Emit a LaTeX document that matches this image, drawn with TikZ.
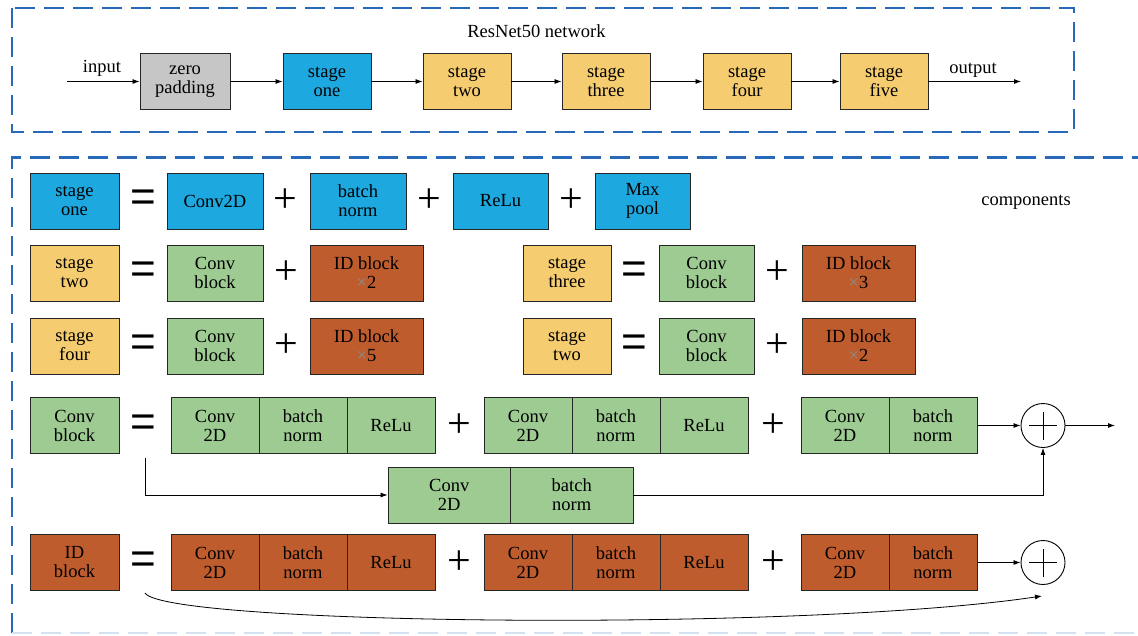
\documentclass[tikz,border=0pt]{standalone}
\usepackage{fontspec}
\setmainfont{Liberation Serif}
\newfontfamily\symfont{Liberation Sans}
\usetikzlibrary{arrows.meta}
\definecolor{dashblue}{RGB}{40,105,185}
\definecolor{cblue}{RGB}{30,168,224}
\definecolor{cyellow}{RGB}{245,204,112}
\definecolor{cgreen}{RGB}{157,203,146}
\definecolor{cbrown}{RGB}{190,92,46}
\definecolor{cgray}{RGB}{198,198,198}
\newcommand{\timesx}{{\color{black!45}×}}
\tikzset{
 blk/.style={draw=black!85, line width=0.9pt, minimum height=56pt, inner sep=0pt, align=center, font=\fontsize{18.5}{19}\selectfont},
 cell/.style={blk, minimum width=88pt},
 eqs/.style={font=\symfont\fontsize{44}{44}\selectfont, inner sep=0pt},
 pls/.style={font=\fontsize{42}{42}\selectfont, inner sep=0pt},
 arr/.style={-{Latex[length=7pt,width=5pt]}, line width=0.8pt},
 frame/.style={dashblue, line width=2.6pt, dash pattern=on 20pt off 9pt},
 lbl/.style={font=\fontsize{18.5}{19}\selectfont, inner sep=0pt},
 sumc/.style={circle, draw, line width=0.9pt, minimum size=44pt, inner sep=0pt},
}
\begin{document}
\begin{tikzpicture}[x=1pt,y=-1pt]
\useasboundingbox (0,0) rectangle (1138,635);
% frames
\draw[frame] (12,8) rectangle (1074,132);
\draw[frame] (12,633) -- (12,157.5) -- (1150,157.5);
\draw[frame, dashblue!20] (12,633) -- (1150,633);

% ---------- top row ----------
\node[lbl, anchor=base] (title) at (536.5,37) {ResNet50 network};
\coordinate (in) at (67,81.5);
\coordinate (out) at (1021,81.5);
\node[blk, fill=cgray, minimum width=90pt] (zp) at (185,81.5) {zero\\padding};
\node[blk, fill=cblue, minimum width=88pt] (s1) at (327,81.5) {stage\\one};
\node[blk, fill=cyellow, minimum width=88pt] (s2) at (467,81.5) {stage\\two};
\node[blk, fill=cyellow, minimum width=88pt] (s3) at (606,81.5) {stage\\three};
\node[blk, fill=cyellow, minimum width=88pt] (s4) at (747,81.5) {stage\\four};
\node[blk, fill=cyellow, minimum width=88pt] (s5) at (884,81.5) {stage\\five};
\node[lbl, anchor=base] (inl) at (102,72) {input};
\node[lbl, anchor=base] (outl) at (973,73) {output};
\draw[arr] (in) -- (zp.west);
\draw[arr] (zp.east) -- (s1.west);
\draw[arr] (s1.east) -- (s2.west);
\draw[arr] (s2.east) -- (s3.west);
\draw[arr] (s3.east) -- (s4.west);
\draw[arr] (s4.east) -- (s5.west);
\draw[arr] (s5.east) -- (out);

% ---------- components ----------
\node[lbl, anchor=base] (comp) at (1026,205) {components};

% row 1
\node[blk, fill=cblue, minimum width=89pt] (r1a) at (74.5,201) {stage\\one};
\node[eqs] (r1e) at (143,201) {=};
\node[blk, fill=cblue, minimum width=96pt] (r1b) at (215,201) {Conv2D};
\node[pls] (r1p1) at (285,201) {+};
\node[blk, fill=cblue, minimum width=96pt] (r1c) at (358,201) {batch\\norm};
\node[pls] (r1p2) at (429,201) {+};
\node[blk, fill=cblue, minimum width=95pt] (r1d) at (500.5,201) {ReLu};
\node[pls] (r1p3) at (571,201) {+};
\node[blk, fill=cblue, minimum width=95pt] (r1f) at (642.5,201) {Max\\pool};

% row 2
\node[blk, fill=cyellow, minimum width=89pt] (r2a) at (74.5,273) {stage\\two};
\node[eqs] (r2e) at (143,273) {=};
\node[blk, fill=cgreen, minimum width=96pt] (r2b) at (215,273) {Conv\\block};
\node[pls] (r2p) at (286,273) {+};
\node[blk, fill=cbrown, minimum width=113pt] (r2c) at (366.5,273) {ID block\\\timesx2};
\node[blk, fill=cyellow, minimum width=88pt] (r2d) at (567,273) {stage\\three};
\node[eqs] (r2e2) at (634,273) {=};
\node[blk, fill=cgreen, minimum width=95pt] (r2f) at (706.5,273) {Conv\\block};
\node[pls] (r2p2) at (777,273) {+};
\node[blk, fill=cbrown, minimum width=113pt] (r2g) at (858.5,273) {ID block\\\timesx3};

% row 3
\node[blk, fill=cyellow, minimum width=89pt] (r3a) at (74.5,346) {stage\\four};
\node[eqs] (r3e) at (143,346) {=};
\node[blk, fill=cgreen, minimum width=96pt] (r3b) at (215,346) {Conv\\block};
\node[pls] (r3p) at (286,346) {+};
\node[blk, fill=cbrown, minimum width=113pt] (r3c) at (366.5,346) {ID block\\\timesx5};
\node[blk, fill=cyellow, minimum width=88pt] (r3d) at (567,346) {stage\\two};
\node[eqs] (r3e2) at (634,346) {=};
\node[blk, fill=cgreen, minimum width=95pt] (r3f) at (706.5,346) {Conv\\block};
\node[pls] (r3p2) at (777,346) {+};
\node[blk, fill=cbrown, minimum width=113pt] (r3g) at (858.5,346) {ID block\\\timesx2};

% row 4 : conv block
\node[blk, fill=cgreen, minimum width=89pt] (cb) at (74.5,425.5) {Conv\\block};
\node[eqs] (cbe) at (143,425.5) {=};
\node[cell, fill=cgreen] (g1a) at (215,425.5) {Conv\\2D};
\node[cell, fill=cgreen] (g1b) at (303,425.5) {batch\\norm};
\node[cell, fill=cgreen] (g1c) at (391,425.5) {ReLu};
\node[pls] (g1p) at (459,425.5) {+};
\node[cell, fill=cgreen] (g2a) at (528,425.5) {Conv\\2D};
\node[cell, fill=cgreen] (g2b) at (616,425.5) {batch\\norm};
\node[cell, fill=cgreen] (g2c) at (704,425.5) {ReLu};
\node[pls] (g2p) at (773,425.5) {+};
\node[cell, fill=cgreen] (g3a) at (845,425.5) {Conv\\2D};
\node[cell, fill=cgreen] (g3b) at (933,425.5) {batch\\norm};
\node[sumc] (sum1) at (1043,425.5) {};
\draw[line width=0.9pt] ([xshift=-14pt]sum1.center) -- ([xshift=14pt]sum1.center);
\draw[line width=0.9pt] ([yshift=-14pt]sum1.center) -- ([yshift=14pt]sum1.center);
\coordinate (o1) at (1115,425.5);
\draw[arr] (g3b.east) -- (sum1.west);
\draw[arr] (sum1.east) -- (o1);
% shortcut
\node[blk, fill=cgreen, minimum width=122.5pt] (sb1) at (449.25,495) {Conv\\2D};
\node[blk, fill=cgreen, minimum width=122.5pt] (sb2) at (571.75,495) {batch\\norm};
\coordinate (sc0) at (145,458);
\draw[arr] (sc0) |- (sb1.west);
\draw[arr] (sb2.east) -| (sum1.south);

% row 5 : ID block
\node[blk, fill=cbrown, minimum width=89pt] (ib) at (74.5,562.5) {ID\\block};
\node[eqs] (ibe) at (143,562.5) {=};
\node[cell, fill=cbrown] (h1a) at (215,562.5) {Conv\\2D};
\node[cell, fill=cbrown] (h1b) at (303,562.5) {batch\\norm};
\node[cell, fill=cbrown] (h1c) at (391,562.5) {ReLu};
\node[pls] (h1p) at (459,562.5) {+};
\node[cell, fill=cbrown] (h2a) at (528,562.5) {Conv\\2D};
\node[cell, fill=cbrown] (h2b) at (616,562.5) {batch\\norm};
\node[cell, fill=cbrown] (h2c) at (704,562.5) {ReLu};
\node[pls] (h2p) at (773,562.5) {+};
\node[cell, fill=cbrown] (h3a) at (845,562.5) {Conv\\2D};
\node[cell, fill=cbrown] (h3b) at (933,562.5) {batch\\norm};
\node[sumc] (sum2) at (1043,562.5) {};
\draw[line width=0.9pt] ([xshift=-14pt]sum2.center) -- ([xshift=14pt]sum2.center);
\draw[line width=0.9pt] ([yshift=-14pt]sum2.center) -- ([yshift=14pt]sum2.center);
\draw[arr] (h3b.east) -- (sum2.west);
\coordinate (cv0) at (145,593);
\coordinate (cv1) at (1042,596);
\draw[arr] (cv0) .. controls (165,625) and (800,632) .. (cv1);
\end{tikzpicture}
\end{document}
